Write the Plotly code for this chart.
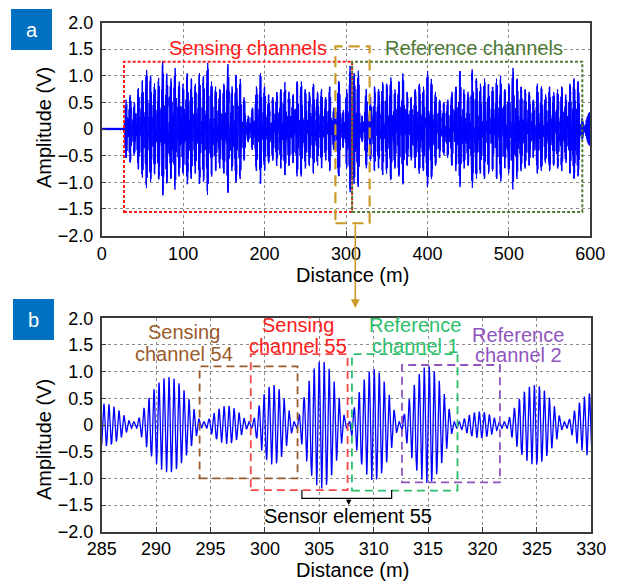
import numpy as np
import plotly.graph_objects as go

FONT = "Liberation Sans, Arial, sans-serif"
W, H = 617, 582

# Peak amplitude (V) of the pulse returned by each 5 m channel, channels centred at 30, 35, ... 590 m
pulse_peak_v = [
    0.55, 0.64, 0.50, 0.77, 0.92, 1.12, 1.00, 0.86, 0.96, 1.27,   # 30-75
    1.04, 0.95, 1.15, 0.90, 0.85, 1.05, 0.95, 0.85, 1.05, 1.00,   # 80-125
    1.25, 0.90, 0.80, 0.75, 0.85, 1.22, 0.80, 1.02, 0.95, 0.60,   # 130-175
    0.25, 0.40, 0.80, 1.05, 0.80, 0.65, 0.60, 0.70, 0.75, 0.88,   # 180-225
    0.70, 0.65, 0.90, 0.90, 0.75, 0.70, 0.85, 0.70, 0.75, 0.60,   # 230-275
    0.80, 0.40, 0.90, 0.36, 0.75, 1.20, 1.05, 1.10, 0.25, 0.75,   # 280-325
    0.60, 0.80, 0.75, 0.88, 0.85, 0.97, 0.75, 0.90, 1.05, 0.70,   # 330-375
    0.60, 0.75, 0.85, 0.80, 1.10, 0.95, 0.70, 0.55, 0.50, 0.55,   # 380-425
    0.70, 0.80, 1.10, 0.75, 0.70, 1.12, 0.95, 0.85, 0.95, 0.85,   # 430-475
    0.80, 0.95, 1.00, 0.75, 0.85, 1.15, 0.95, 0.80, 0.75, 0.70,   # 480-525
    0.55, 0.85, 0.80, 0.65, 0.80, 0.70, 0.75, 0.80, 0.65, 0.85,   # 530-575
    0.95, 0.90, 0.20,                                             # 580-590
]
first_centre_m = 30.0
channel_pitch_m = 5.0
# channel boundaries that sit off the nominal 5 m grid around sensor element 55
edge_adjust_m = {287.5: 288.0, 292.5: 294.3, 297.5: 298.7, 302.5: 302.8,
                 307.5: 307.6, 312.5: 312.4, 322.5: 322.0, 327.5: 327.6}
tail_peak_v = 0.32          # amplitude reached at the fibre end (600 m)
baseline_v = 0.02           # lead-in fibre before the first grating
carrier_period_m = 0.46     # interference fringe period

x_ticks_a = [0, 100, 200, 300, 400, 500, 600]
x_ticks_b = [285, 290, 295, 300, 305, 310, 315, 320, 325, 330]
y_ticks = [-2.0, -1.5, -1.0, -0.5, 0.0, 0.5, 1.0, 1.5, 2.0]
y_tick_text = ["\u22122.0", "\u22121.5", "\u22121.0", "\u22120.5", "0", "0.5", "1.0", "1.5", "2.0"]

# ---- build the reflected trace --------------------------------------------
dist = np.arange(0.0, 600.0 + 1e-9, 0.02)
n_ch = len(pulse_peak_v)
edges = [first_centre_m - channel_pitch_m / 2 + k * channel_pitch_m for k in range(n_ch + 1)]
edges = [edge_adjust_m.get(e, e) for e in edges]

env = np.full_like(dist, baseline_v)
for k, peak in enumerate(pulse_peak_v):
    lo, hi = edges[k], edges[k + 1]
    m = (dist >= lo) & (dist < hi)
    shape = np.sin(np.pi * (dist[m] - lo) / (hi - lo)) ** 1.2
    env[m] = np.maximum(peak * shape, 0.06)
m = dist >= edges[-1]
env[m] = tail_peak_v * np.sin(np.pi * (dist[m] - edges[-1]) / (2 * (600.0 - edges[-1])))
amp = env * np.cos(2 * np.pi * dist / carrier_period_m)

zoom = (dist >= 284.5) & (dist <= 330.5)

fig = go.Figure()
fig.add_trace(go.Scatter(x=dist, y=amp, mode="lines", line=dict(color="#0000FF", width=1),
                         xaxis="x", yaxis="y", showlegend=False, hoverinfo="skip"))
fig.add_trace(go.Scatter(x=dist[zoom], y=amp[zoom], mode="lines", line=dict(color="#0000FF", width=1.3),
                         xaxis="x2", yaxis="y2", showlegend=False, hoverinfo="skip"))

def px_x(p):
    return p / W

def px_y(p):
    return 1 - p / H

axis_style = dict(showline=True, linecolor="#3a3a3a", linewidth=1.5, mirror=True,
                  ticks="inside", ticklen=5, tickcolor="#3a3a3a", tickwidth=1.2,
                  showgrid=True, gridcolor="#8c8c8c", griddash="dot", gridwidth=1,
                  zeroline=False, tickfont=dict(family=FONT, size=18, color="black"))

fig.update_layout(
    width=W, height=H, margin=dict(l=0, r=0, t=0, b=0),
    paper_bgcolor="white", plot_bgcolor="white", template="none",
    font=dict(family=FONT, size=20, color="black"),
    xaxis=dict(axis_style, domain=[px_x(101.7), px_x(590.3)], range=[0, 600],
               tickvals=x_ticks_a, ticktext=[str(v) for v in x_ticks_a],
               anchor="y", ticklabelstandoff=1),
    yaxis=dict(axis_style, domain=[px_y(235.5), px_y(22.5)], range=[-2, 2],
               tickvals=y_ticks, ticktext=y_tick_text, anchor="x", ticklabelstandoff=3),
    xaxis2=dict(axis_style, domain=[px_x(101.7), px_x(591.3)], range=[285, 330],
                tickvals=x_ticks_b, ticktext=[str(v) for v in x_ticks_b],
                anchor="y2", ticklabelstandoff=0),
    yaxis2=dict(axis_style, domain=[px_y(531.7), px_y(318.3)], range=[-2, 2],
                tickvals=y_ticks, ticktext=y_tick_text, anchor="x2", ticklabelstandoff=3),
)

shapes = []
annotations = []

def box(xref, yref, x0, x1, y0, y1, color, dash, width):
    shapes.append(dict(type="rect", xref=xref, yref=yref, x0=x0, x1=x1, y0=y0, y1=y1,
                       line=dict(color=color, dash=dash, width=width), fillcolor="rgba(0,0,0,0)"))

def text(xref, yref, x, y, s, color, size=20):
    annotations.append(dict(xref=xref, yref=yref, x=x, y=y, text=s, showarrow=False,
                            font=dict(family=FONT, size=size, color=color),
                            xanchor="center", yanchor="middle"))

RED = "#FF1A1A"
DKGREEN = "#4E7A34"
GOLD = "#C99A26"
BROWN = "#9A5B2C"
LRED = "#F24848"
GREEN = "#2DBE6C"
PURPLE = "#8E55BE"

# panel a: channel groups and zoom window
box("x", "y", 27.4, 307.5, -1.56, 1.265, RED, "3px,2px", 2)
box("x", "y", 307.5, 590.2, -1.56, 1.265, DKGREEN, "3px,2px", 2)
box("x", "y", 287.0, 329.0, -1.77, 1.55, GOLD, "11px,6px", 2.2)
text("x", "y", 179.5, 1.52, "Sensing channels", RED)
text("x", "y", 457.0, 1.52, "Reference channels", DKGREEN)
annotations.append(dict(xref="paper", yref="paper", x=px_x(355.3), y=px_y(308), ax=0, ay=-85,
                        text="", showarrow=True, arrowhead=2, arrowsize=1.1, arrowwidth=1.6,
                        arrowcolor=GOLD))

# panel b: individual channels around sensor element 55
box("x2", "y2", 294.0, 303.0, -1.0, 1.1, BROWN, "8px,5px", 1.8)
box("x2", "y2", 298.7, 307.6, -1.22, 1.33, LRED, "8px,5px", 1.8)
box("x2", "y2", 308.0, 317.7, -1.23, 1.33, GREEN, "8px,5px", 1.8)
box("x2", "y2", 312.6, 321.6, -1.075, 1.125, PURPLE, "8px,5px", 1.8)
text("x2", "y2", 292.6, 1.745, "Sensing", BROWN)
text("x2", "y2", 292.6, 1.34, "channel 54", BROWN)
text("x2", "y2", 303.0, 1.87, "Sensing", RED)
text("x2", "y2", 303.0, 1.49, "channel 55", RED)
text("x2", "y2", 313.8, 1.87, "Reference", GREEN)
text("x2", "y2", 313.8, 1.49, "channel 1", GREEN)
text("x2", "y2", 323.3, 1.69, "Reference", PURPLE)
text("x2", "y2", 323.3, 1.32, "channel 2", PURPLE)

shapes.append(dict(type="path", xref="x2", yref="y2",
                   path="M 303.4,-1.22 L 303.4,-1.375 L 311.65,-1.375 L 311.65,-1.22",
                   line=dict(color="black", width=1.2)))
annotations.append(dict(xref="x2", yref="y2", x=307.7, y=-1.5, ax=0, ay=-7, text="",
                        showarrow=True, arrowhead=2, arrowsize=0.9, arrowwidth=1.2,
                        arrowcolor="black"))
text("x2", "y2", 307.6, -1.70, "Sensor element 55", "black")

# axis titles
for yc in (128.0, 440.0):
    annotations.append(dict(xref="paper", yref="paper", x=px_x(44), y=px_y(yc), text="Amplitude (V)",
                            textangle=-90, showarrow=False, xanchor="center", yanchor="middle",
                            font=dict(family=FONT, size=20, color="black")))
for yc in (275.0, 570.0):
    annotations.append(dict(xref="paper", yref="paper", x=px_x(352), y=px_y(yc), text="Distance (m)",
                            showarrow=False, xanchor="center", yanchor="middle",
                            font=dict(family=FONT, size=20, color="black")))

# panel letters
for letter, x0, y0 in (("a", 11, 9), ("b", 13, 299)):
    shapes.append(dict(type="rect", xref="paper", yref="paper", x0=px_x(x0), x1=px_x(x0 + 41),
                       y0=px_y(y0 + 41), y1=px_y(y0), line=dict(width=0), fillcolor="#0070C0"))
    annotations.append(dict(xref="paper", yref="paper", x=px_x(x0 + 20.5), y=px_y(y0 + 20.5),
                            text=letter, showarrow=False, xanchor="center", yanchor="middle",
                            font=dict(family=FONT, size=20, color="white")))

fig.update_layout(shapes=shapes, annotations=annotations)
fig.write_html("out.html")
